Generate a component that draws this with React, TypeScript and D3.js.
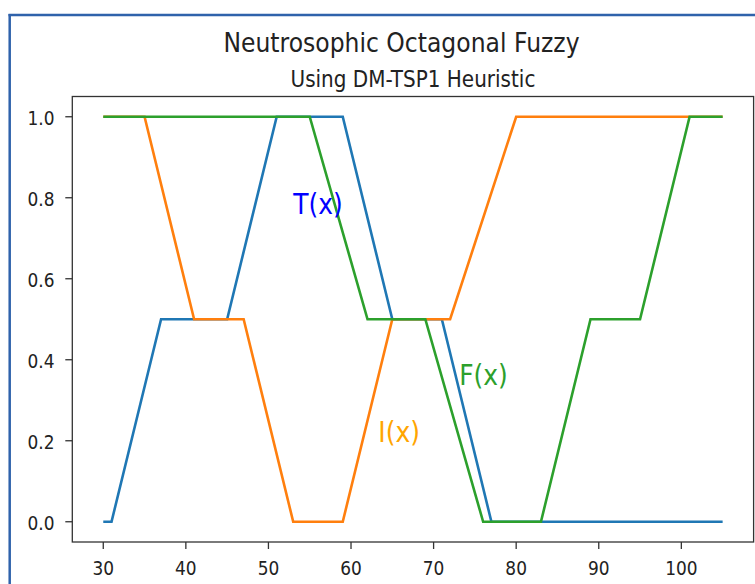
import React, { useEffect, useRef } from 'react';
import * as d3 from 'd3';

// membership functions
const tX = [30, 31, 37, 45, 51, 59, 65, 71, 77, 105];
const tY = [0, 0, 0.5, 0.5, 1, 1, 0.5, 0.5, 0, 0];
const iX = [30, 35, 41, 47, 53, 59, 65, 72, 80, 105];
const iY = [1, 1, 0.5, 0.5, 0, 0, 0.5, 0.5, 1, 1];
const fX = [30, 55, 62, 69, 76, 83, 89, 95, 101, 105];
const fY = [1, 1, 0.5, 0.5, 0, 0, 0.5, 0.5, 1, 1];

const xTicks = [30, 40, 50, 60, 70, 80, 90, 100];
const yTicks = [0, 0.2, 0.4, 0.6, 0.8, 1.0];

const labels = [
  { text: 'T(x)', x: 53, y: 0.76, color: '#0000ff' },
  { text: 'I(x)', x: 63.3, y: 0.198, color: '#ffa500' },
  { text: 'F(x)', x: 73.1, y: 0.338, color: '#2ca02c' },
];

const W = 755;
const H = 584;

const App = () => {
  const svgRef = useRef<SVGSVGElement>(null);

  useEffect(() => {
    const svg = d3.select(svgRef.current);
    svg.selectAll('*').remove();

    const left = 72.3, right = 753.6, top = 96.5, bottom = 542;
    const font = 'DejaVu Sans, sans-serif';
    const stretch = 1.12;

    const x = d3.scaleLinear().domain([26.25, 108.75]).range([left, right]);
    const y = d3.scaleLinear().domain([-0.05, 1.05]).range([bottom, top]);

    svg.append('rect').attr('width', W).attr('height', H).attr('fill', 'white');

    // notebook cell frame
    svg.append('line').attr('x1', 8.5).attr('x2', W).attr('y1', 15).attr('y2', 15)
      .attr('stroke', '#2f62ab').attr('stroke-width', 2.5);
    svg.append('line').attr('x1', 9.7).attr('x2', 9.7).attr('y1', 14).attr('y2', H)
      .attr('stroke', '#2f62ab').attr('stroke-width', 2.5);

    const addText = (tx: number, ty: number, s: string, size: number, color: string, anchor = 'start') =>
      svg.append('text')
        .attr('transform', `translate(${tx},${ty}) scale(1,${stretch})`)
        .attr('text-anchor', anchor)
        .attr('font-family', font).attr('font-size', size).attr('fill', color)
        .text(s);

    // titles
    addText(401.5, 52, 'Neutrosophic Octagonal Fuzzy', 23.5, '#222', 'middle');
    addText((left + right) / 2, 86.5, 'Using DM-TSP1 Heuristic', 20, '#222', 'middle');

    // ticks
    const g = svg.append('g');
    xTicks.forEach(t => {
      g.append('line').attr('x1', x(t)).attr('x2', x(t)).attr('y1', bottom).attr('y2', bottom + 7)
        .attr('stroke', '#333').attr('stroke-width', 1.3);
      addText(x(t), 575, d3.format('d')(t), 17, '#222', 'middle');
    });
    yTicks.forEach(t => {
      g.append('line').attr('x1', left - 7).attr('x2', left).attr('y1', y(t)).attr('y2', y(t))
        .attr('stroke', '#333').attr('stroke-width', 1.3);
      addText(54.5, y(t) + 8.3, d3.format('.1f')(t), 17, '#222', 'end');
    });

    svg.append('rect')
      .attr('x', left).attr('y', top)
      .attr('width', right - left).attr('height', bottom - top)
      .attr('fill', 'none').attr('stroke', '#333').attr('stroke-width', 1.3);

    // lines
    const drawSeries = (xs: number[], ys: number[], color: string) => {
      const pts: [number, number][] = xs.map((v, i) => [x(v), y(ys[i])]);
      svg.append('path')
        .attr('d', d3.line()(pts))
        .attr('fill', 'none')
        .attr('stroke', color)
        .attr('stroke-width', 2.6)
        .attr('stroke-linejoin', 'miter');
    };

    drawSeries(tX, tY, '#1f77b4');
    drawSeries(iX, iY, '#ff7f0e');
    drawSeries(fX, fY, '#2ca02c');

    labels.forEach(l => {
      addText(x(l.x), y(l.y), l.text, 25, l.color);
    });
  }, []);

  return (
    <svg ref={svgRef} width={W} height={H}
      style={{ position: 'absolute', left: 0, top: 0, display: 'block' }} />
  );
};

export default App;
